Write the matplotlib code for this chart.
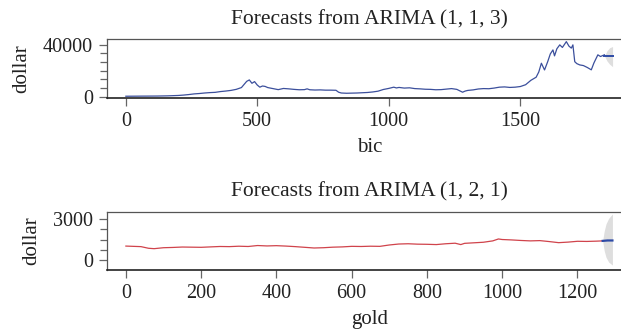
import matplotlib
matplotlib.use("Agg")
import matplotlib.pyplot as plt
from matplotlib.ticker import MultipleLocator, FixedLocator

plt.rcParams['font.family'] = ['Liberation Serif', 'DejaVu Serif']

# bic series (index, dollar)
bic_idx = [0, 20, 40, 60, 80, 100, 120, 140, 160, 180, 200, 220, 240, 260, 280,
           300, 320, 340, 360, 380, 400, 420, 440, 460, 470, 480, 490, 500, 510,
           520, 530, 540, 560, 580, 600, 620, 640, 660, 680, 690, 700, 720, 740,
           760, 780, 800, 810, 820, 840, 860, 880, 900, 920, 940, 960, 980, 1000,
           1020, 1030, 1040, 1060, 1080, 1100, 1120, 1140, 1160, 1180, 1200, 1220,
           1240, 1260, 1282, 1292, 1302, 1322, 1342, 1362, 1382, 1402, 1422, 1442,
           1462, 1482, 1502, 1522, 1542, 1562, 1572, 1582, 1594, 1606, 1616, 1626,
           1632, 1641, 1652, 1662, 1677, 1687, 1696, 1702, 1709, 1717, 1728, 1742,
           1757, 1772, 1782, 1797, 1807, 1822]
bic_val = [300, 320, 350, 380, 400, 420, 450, 520, 600, 750, 900, 1200, 1600, 2100,
           2400, 2800, 3100, 3300, 3900, 4300, 4800, 5600, 7000, 11800, 12900, 10300,
           11600, 9000, 7300, 8200, 7900, 7000, 6200, 5400, 6300, 6000, 5600, 5300,
           5400, 6000, 5300, 5100, 5200, 5000, 5000, 4900, 3400, 2800, 2600, 2700,
           2800, 3000, 3200, 3600, 4200, 5500, 6300, 7300, 6700, 7100, 6600, 6800,
           6200, 6000, 5700, 5600, 5300, 5400, 5800, 6200, 5600, 3400, 4300, 4800,
           5200, 5900, 6200, 6100, 6600, 7300, 7500, 7100, 7300, 7800, 9200, 12600,
           15000, 19000, 25800, 20600, 27000, 33000, 36100, 31500, 37000, 40000,
           38000, 42500, 39000, 37500, 40000, 27000, 25500, 24500, 24000, 22500,
           20700, 26000, 32300, 31000, 32300]
bic_fc_idx = [1822, 1853]
bic_fc_val = [31500, 31500]
bic_fan_idx = [1822, 1832, 1842, 1853]
bic_fan_lo = [31500, 27500, 25000, 23200]
bic_fan_hi = [31500, 35500, 37800, 38700]

# gold series (index, dollar)
gold_idx = [0, 20, 40, 60, 75, 100, 125, 150, 175, 200, 225, 250, 275, 300, 325,
            350, 375, 400, 425, 450, 475, 500, 525, 550, 575, 600, 625, 650, 675,
            700, 725, 750, 775, 800, 825, 850, 875, 890, 900, 925, 950, 975, 990,
            1000, 1025, 1050, 1075, 1100, 1125, 1150, 1175, 1200, 1225, 1250, 1267]
gold_val = [1020, 1000, 980, 860, 830, 900, 920, 950, 940, 930, 960, 990, 980, 1010,
            990, 1060, 1030, 1050, 1020, 980, 930, 880, 900, 940, 960, 1000, 990,
            1010, 1000, 1100, 1170, 1190, 1160, 1150, 1130, 1190, 1230, 1130, 1220,
            1260, 1300, 1400, 1540, 1500, 1470, 1430, 1400, 1420, 1350, 1270, 1310,
            1370, 1360, 1380, 1400]
gold_fc_idx = [1267, 1280, 1293]
gold_fc_val = [1400, 1430, 1430]
gold_fan_idx = [1267, 1271, 1276, 1283, 1293]
gold_fan_lo = [1400, 700, 200, -150, -370]
gold_fan_hi = [1400, 2100, 2650, 3050, 3370]

W, H = 621, 334
fig = plt.figure(figsize=(W / 100, H / 100), dpi=100)

ax1 = fig.add_axes([106.7 / W, 1 - 98.3 / H, (632 - 106.7) / W, 59 / H])
ax2 = fig.add_axes([106.7 / W, 1 - 270 / H, (632 - 106.7) / W, 58.3 / H])


def style(ax, title, xlabel, ymax, minor_step, xmaj):
    ax.set_title(title, fontsize=15.5, pad=11, color='#222222')
    ax.set_xlabel(xlabel, fontsize=15, labelpad=5, color='#222222')
    ax.set_ylabel('dollar', fontsize=15, labelpad=8, color='#222222')
    ax.yaxis.set_major_locator(FixedLocator([0, ymax]))
    ax.yaxis.set_minor_locator(MultipleLocator(minor_step))
    ax.xaxis.set_major_locator(MultipleLocator(xmaj))
    ax.tick_params(axis='both', which='major', labelsize=14.5, color='#666666',
                   labelcolor='#222222', length=6, width=0.9, pad=4)
    ax.tick_params(axis='y', which='minor', color='#666666', length=5, width=0.9)
    for s in ['top', 'left', 'right']:
        ax.spines[s].set_color('#555555')
        ax.spines[s].set_linewidth(0.9)
    ax.spines['bottom'].set_color('#222222')
    ax.spines['bottom'].set_linewidth(1.2)


# top panel
ax1.fill_between(bic_fan_idx, bic_fan_lo, bic_fan_hi, color='#dedede', lw=0)
ax1.plot(bic_idx, bic_val, color='#3b4f9c', lw=0.9)
ax1.plot(bic_fc_idx, bic_fc_val, color='#2d4aa6', lw=1.4)
ax1.set_xlim(-73, 1927)
ax1.set_ylim(-1300, 44300)
style(ax1, 'Forecasts from ARIMA (1, 1, 3)', 'bic', 40000, 40000 / 6, 500)

# bottom panel
ax2.fill_between(gold_fan_idx, gold_fan_lo, gold_fan_hi, color='#dedede', lw=0)
ax2.plot(gold_idx, gold_val, color='#d0434b', lw=0.9)
ax2.plot(gold_fc_idx, gold_fc_val, color='#2d4aa6', lw=1.6)
ax2.set_xlim(-51, 1345)
ax2.set_ylim(-730, 3535)
style(ax2, 'Forecasts from ARIMA (1, 2, 1)', 'gold', 3000, 750, 200)

fig.savefig('out.png', dpi=100)
